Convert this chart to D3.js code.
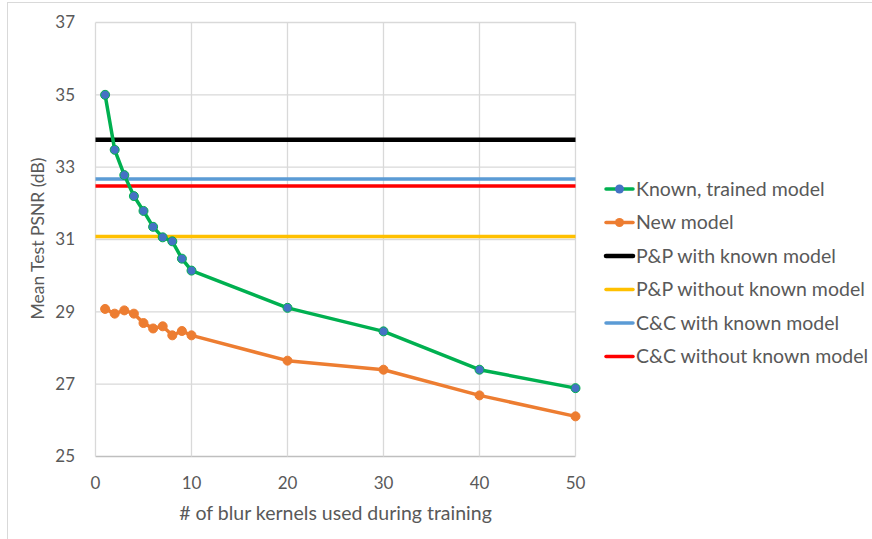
<html>
<head>
<script src="https://d3js.org/d3.v7.min.js"></script>
<style>
  body { margin: 0; background: #fff; }
  text { font-family: Lato, "Open Sans", sans-serif; fill: #595959; }
</style>
</head>
<body>
<div id="chart"></div>
<script>
// data
var kernels = [1, 2, 3, 4, 5, 6, 7, 8, 9, 10, 20, 30, 40, 50];
var knownModel = [35.0, 33.48, 32.78, 32.2, 31.79, 31.35, 31.06, 30.95, 30.47, 30.14, 29.11, 28.46, 27.4, 26.89];
var newModel = [29.08, 28.95, 29.04, 28.95, 28.69, 28.54, 28.6, 28.35, 28.47, 28.35, 27.65, 27.4, 26.69, 26.11];
var refNames = ["P&P with known model", "P&P without known model", "C&C with known model", "C&C without known model"];
var refValues = [33.76, 31.08, 32.67, 32.48];
var xTicks = [0, 10, 20, 30, 40, 50];
var yTicks = [25, 27, 29, 31, 33, 35, 37];

var width = 872, height = 539;
var svg = d3.select("#chart").append("svg")
  .attr("width", width)
  .attr("height", height);

// chart border
svg.append("rect")
  .attr("x", 7.5).attr("y", 2.5)
  .attr("width", 880).attr("height", 560)
  .attr("fill", "none")
  .attr("stroke", "#d9d9d9");

var x = d3.scaleLinear().domain([0, 50]).range([95.5, 575.5]);
var y = d3.scaleLinear().domain([25, 37]).range([456.5, 22.5]);

// gridlines
svg.append("g").selectAll("line")
  .data(yTicks).enter().append("line")
  .attr("x1", x(0)).attr("x2", x(50))
  .attr("y1", d => y(d)).attr("y2", d => y(d))
  .attr("stroke", d => d == 25 ? "#bfbfbf" : "#d9d9d9")
  .attr("stroke-width", 1.3);
svg.append("g").selectAll("line")
  .data(xTicks).enter().append("line")
  .attr("x1", d => x(d)).attr("x2", d => x(d))
  .attr("y1", y(25)).attr("y2", y(37))
  .attr("stroke", "#d9d9d9")
  .attr("stroke-width", 1.3);

// tick labels
svg.append("g").selectAll("text")
  .data(yTicks).enter().append("text")
  .attr("x", 75).attr("y", d => y(d))
  .attr("dy", "0.35em")
  .attr("text-anchor", "end")
  .attr("font-size", 17)
  .text(d => d);
svg.append("g").selectAll("text")
  .data(xTicks).enter().append("text")
  .attr("x", d => x(d)).attr("y", 483)
  .attr("dy", "0.35em")
  .attr("text-anchor", "middle")
  .attr("font-size", 17)
  .text(d => d);

// axis titles
svg.append("text")
  .attr("x", (x(0) + x(50)) / 2).attr("y", 513)
  .attr("dy", "0.35em")
  .attr("text-anchor", "middle")
  .attr("font-size", 19.5)
  .text("# of blur kernels used during training");
svg.append("text")
  .attr("transform", "translate(38," + (y(31) - 1) + ") rotate(-90)")
  .attr("dy", "0.35em")
  .attr("text-anchor", "middle")
  .attr("font-size", 17.5)
  .text("Mean Test PSNR (dB)");

// reference lines
var refColors = ["#000000", "#ffc000", "#5b9bd5", "#ff0000"];
svg.append("g").selectAll("line")
  .data(refValues).enter().append("line")
  .attr("x1", x(0)).attr("x2", x(50))
  .attr("y1", d => y(d)).attr("y2", d => y(d))
  .attr("stroke", (d, i) => refColors[i])
  .attr("stroke-width", (d, i) => i == 0 ? 4.5 : 3.5);

// series
var line = d3.line()
  .x(d => x(d[0]))
  .y(d => y(d[1]));

function drawSeries(vals, lineColor, dotColor) {
  var pts = kernels.map((k, i) => [k, vals[i]]);
  svg.append("path")
    .datum(pts)
    .attr("d", line)
    .attr("fill", "none")
    .attr("stroke", lineColor)
    .attr("stroke-width", 3.5)
    .attr("stroke-linejoin", "round");
  svg.append("g").selectAll("circle")
    .data(pts).enter().append("circle")
    .attr("cx", d => x(d[0]))
    .attr("cy", d => y(d[1]))
    .attr("r", 4.5)
    .attr("fill", dotColor)
    .attr("stroke", lineColor)
    .attr("stroke-width", 1);
}
drawSeries(knownModel, "#00b050", "#4472c4");
drawSeries(newModel, "#ed7d31", "#ed7d31");

// legend
var legendNames = ["Known, trained model", "New model"].concat(refNames);
var legendColors = ["#00b050", "#ed7d31"].concat(refColors);
var lg = svg.append("g").selectAll("g")
  .data(legendNames).enter().append("g")
  .attr("transform", (d, i) => "translate(0," + (189 + i * 33.5) + ")");
lg.append("line")
  .attr("x1", 606).attr("x2", 633)
  .attr("stroke", (d, i) => legendColors[i])
  .attr("stroke-width", (d, i) => i == 2 ? 4.5 : 3.5)
  .attr("stroke-linecap", "round");
lg.filter((d, i) => i < 2).append("circle")
  .attr("cx", 619.5).attr("r", 4.5)
  .attr("fill", (d, i) => i == 0 ? "#4472c4" : "#ed7d31");
lg.append("text")
  .attr("x", 636)
  .attr("dy", "0.35em")
  .attr("font-size", 19.5)
  .text(d => d);
</script>
</body>
</html>
